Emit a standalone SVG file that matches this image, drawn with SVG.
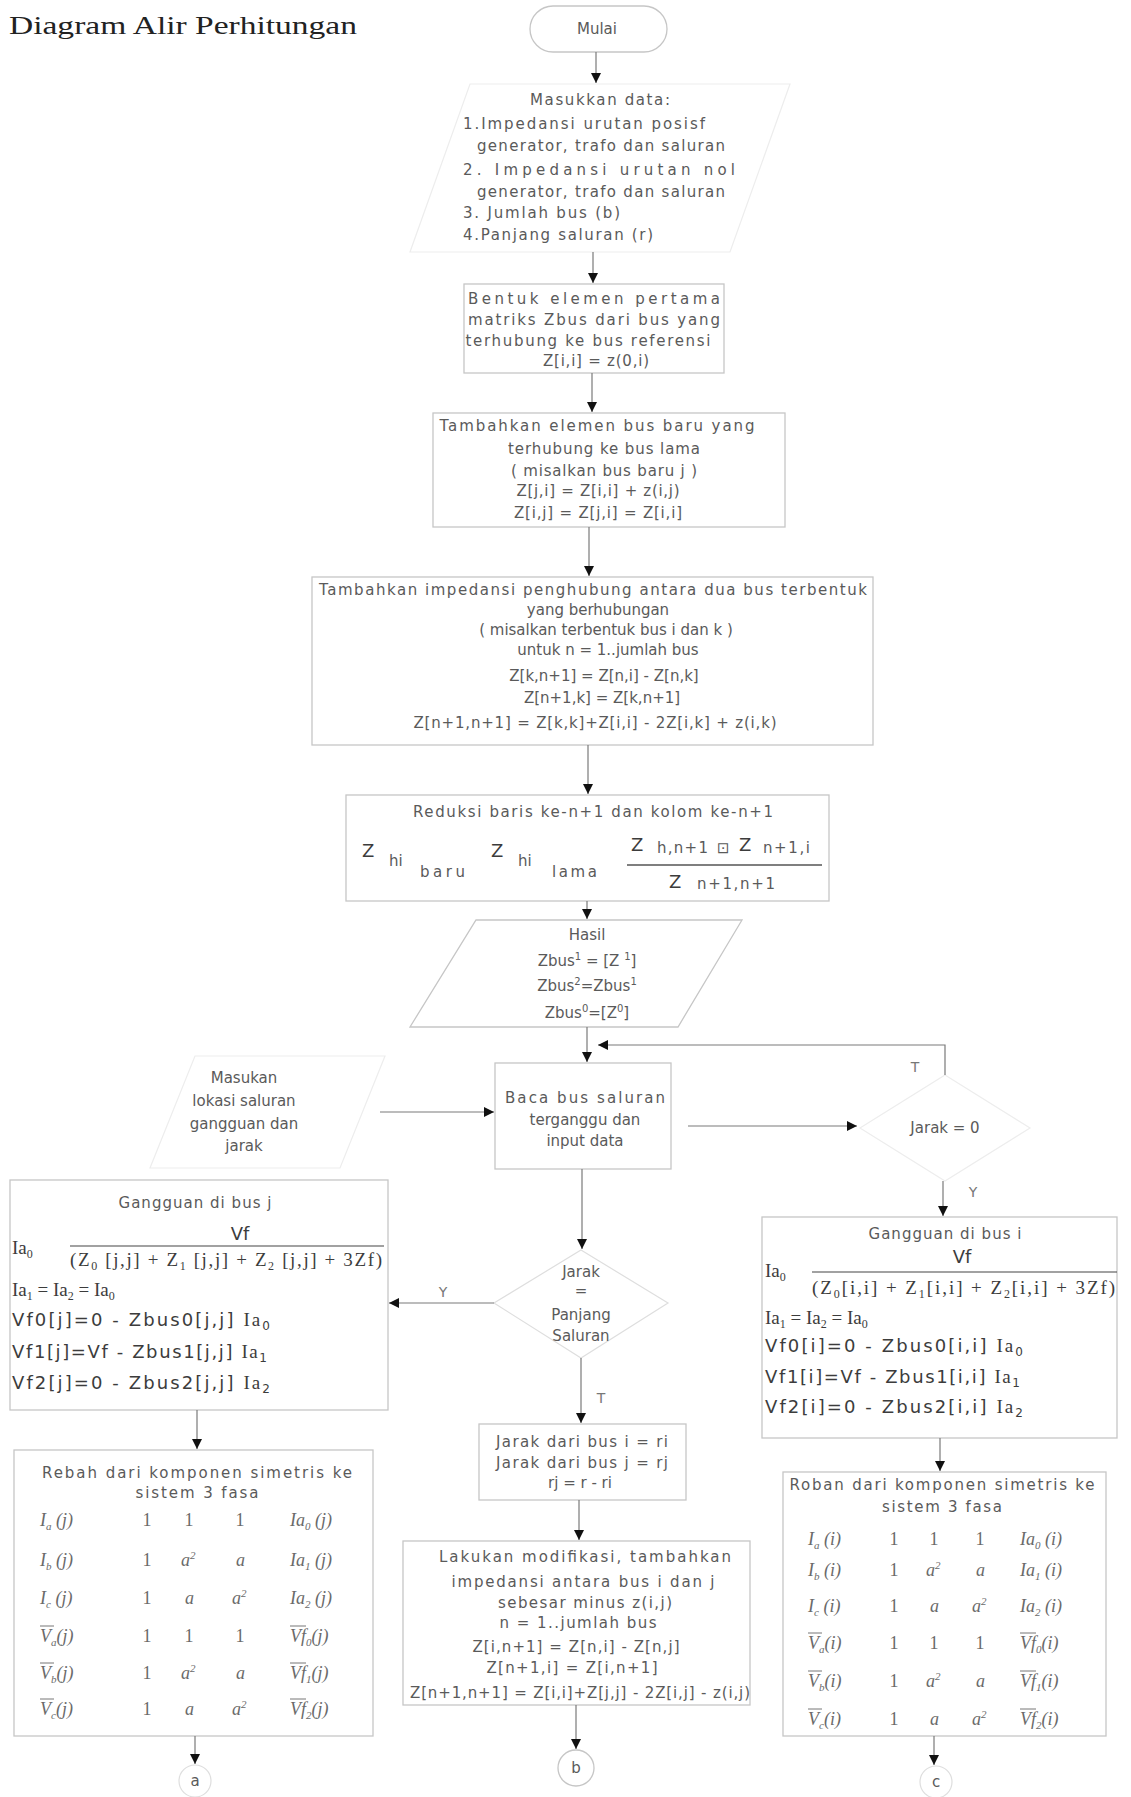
<svg xmlns="http://www.w3.org/2000/svg" width="1131" height="1797" viewBox="0 0 1131 1797">
<defs>
<style>
.bg{fill:#fff}
.box{fill:none;stroke:#c6c6c6;stroke-width:1.3}
.faint{fill:none;stroke:#ededed;stroke-width:1.2}
.mid{fill:none;stroke:#dedede;stroke-width:1.2}
.c{fill:none;stroke:#7a7a7a;stroke-width:1.2}
.t{font-family:"DejaVu Sans",sans-serif;font-size:15px;fill:#5a5a5a;text-anchor:middle}
.ts{font-family:"DejaVu Sans",sans-serif;font-size:15px;fill:#5a5a5a}
.f{font-family:"DejaVu Sans",sans-serif;font-size:18px;fill:#3c3c3c}
.sr{font-family:"Liberation Serif",serif;font-size:19px;fill:#3c3c3c}
.mx{font-family:"Liberation Serif",serif;font-style:italic;font-size:18px;fill:#6a6a6a}
.mn{font-family:"Liberation Serif",serif;font-size:18px;fill:#6a6a6a;text-anchor:middle}
.lb{font-family:"DejaVu Sans",sans-serif;font-size:14px;fill:#777;text-anchor:middle}
.ob{stroke:#777;stroke-width:1}
</style>
<marker id="ah" viewBox="0 0 10 10" refX="10" refY="5" markerWidth="10" markerHeight="10" markerUnits="userSpaceOnUse" orient="auto">
<path d="M0,0 L10,5 L0,10 z" fill="#111"/>
</marker>
</defs>
<rect class="bg" x="0" y="0" width="1131" height="1797"/>

<text id="title" x="9" y="34" font-family="Liberation Serif, serif" font-size="26" fill="#222" textLength="348" lengthAdjust="spacingAndGlyphs">Diagram Alir Perhitungan</text>

<g id="n-mulai">
<rect class="box" x="530" y="6" width="137" height="46" rx="23"/>
<text class="t" x="597" y="34">Mulai</text>
</g>

<g id="n-input">
<polygon class="faint" points="470,84 790,84 730,252 410,252"/>
<text class="t" x="600" y="105" textLength="140">Masukkan data:</text>
<text class="ts" x="463" y="129" textLength="242">1.Impedansi urutan posisf</text>
<text class="ts" x="477" y="151" textLength="248">generator, trafo dan saluran</text>
<text class="ts" x="463" y="175" textLength="272">2. Impedansi urutan nol</text>
<text class="ts" x="477" y="197" textLength="248">generator, trafo dan saluran</text>
<text class="ts" x="463" y="218" textLength="157">3. Jumlah bus (b)</text>
<text class="ts" x="463" y="240" textLength="190">4.Panjang saluran (r)</text>
</g>

<g id="n-bentuk">
<rect class="box" x="464" y="284" width="260" height="89"/>
<text class="t" x="594" y="304" textLength="252">Bentuk elemen pertama</text>
<text class="t" x="594" y="325" textLength="252">matriks Zbus dari bus yang</text>
<text class="t" x="588" y="346" textLength="245">terhubung ke bus referensi</text>
<text class="t" x="596" y="366" textLength="106">Z[i,i] = z(0,i)</text>
</g>

<g id="n-tambah-elemen">
<rect class="box" x="433" y="413" width="352" height="114"/>
<text class="t" x="597" y="431" textLength="315">Tambahkan elemen bus baru yang</text>
<text class="t" x="604" y="454" textLength="192">terhubung ke bus lama</text>
<text class="t" x="604" y="476" textLength="186">( misalkan bus baru j )</text>
<text class="t" x="598" y="496" textLength="163">Z[j,i] = Z[i,i] + z(i,j)</text>
<text class="t" x="598" y="518" textLength="168">Z[i,j] = Z[j,i] = Z[i,i]</text>
</g>

<g id="n-tambah-impedansi">
<rect class="box" x="312" y="577" width="561" height="168"/>
<text class="t" x="593" y="595" textLength="548">Tambahkan impedansi penghubung antara dua bus terbentuk</text>
<text class="t" x="598" y="615">yang berhubungan</text>
<text class="t" x="606" y="635">( misalkan terbentuk bus i dan k )</text>
<text class="t" x="608" y="655">untuk n = 1..jumlah bus</text>
<text class="t" x="604" y="681">Z[k,n+1] =  Z[n,i] - Z[n,k]</text>
<text class="t" x="602" y="703">Z[n+1,k] = Z[k,n+1]</text>
<text class="t" x="595" y="728" textLength="363">Z[n+1,n+1] = Z[k,k]+Z[i,i] - 2Z[i,k] + z(i,k)</text>
</g>

<g id="n-reduksi">
<rect class="box" x="346" y="795" width="483" height="106"/>
<text class="t" x="593" y="817" textLength="360">Reduksi baris ke-n+1 dan kolom ke-n+1</text>
<text class="f" x="362" y="857" font-size="19">Z</text>
<text class="ts" x="389" y="866">hi</text>
<text class="ts" x="420" y="877" textLength="45">baru</text>
<text class="f" x="491" y="857" font-size="19">Z</text>
<text class="ts" x="518" y="866">hi</text>
<text class="ts" x="552" y="877" textLength="45">lama</text>
<text class="f" x="631" y="851" font-size="19">Z</text>
<text class="ts" x="657" y="853" textLength="51">h,n+1</text>
<text class="ts" x="717" y="853">⊡</text>
<text class="f" x="739" y="851" font-size="19">Z</text>
<text class="ts" x="763" y="853" textLength="47">n+1,i</text>
<line x1="627" y1="865" x2="822" y2="865" stroke="#555" stroke-width="1.3"/>
<text class="f" x="669" y="888" font-size="19">Z</text>
<text class="ts" x="697" y="889" textLength="78">n+1,n+1</text>
</g>

<g id="n-hasil">
<polygon class="box" points="476,920 742,920 678,1027 410,1027"/>
<text class="t" x="587" y="940">Hasil</text>
<text class="t" x="587" y="966">Zbus<tspan dy="-6" font-size="10">1</tspan><tspan dy="6"> = [Z </tspan><tspan dy="-6" font-size="10">1</tspan><tspan dy="6">]</tspan></text>
<text class="t" x="587" y="991">Zbus<tspan dy="-6" font-size="10">2</tspan><tspan dy="6">=Zbus</tspan><tspan dy="-6" font-size="10">1</tspan></text>
<text class="t" x="587" y="1018">Zbus<tspan dy="-6" font-size="10">0</tspan><tspan dy="6">=[Z</tspan><tspan dy="-6" font-size="10">0</tspan><tspan dy="6">]</tspan></text>
</g>

<g id="n-lokasi">
<polygon class="faint" points="195,1056 385,1056 340,1168 150,1168"/>
<text class="t" x="244" y="1083">Masukan</text>
<text class="t" x="244" y="1106">lokasi saluran</text>
<text class="t" x="244" y="1129">gangguan dan</text>
<text class="t" x="244" y="1151">jarak</text>
</g>

<g id="n-baca">
<rect class="box" x="495" y="1063" width="176" height="106"/>
<text class="t" x="585" y="1103" textLength="160">Baca bus saluran</text>
<text class="t" x="585" y="1125">terganggu dan</text>
<text class="t" x="585" y="1146">input data</text>
</g>

<g id="n-jarak0">
<polygon class="faint" points="945,1075 1030,1128 945,1181 860,1128"/>
<text class="t" x="945" y="1133">Jarak = 0</text>
</g>

<g id="n-jarak-panjang">
<polygon class="mid" points="581,1250 668,1303 581,1358 494,1303"/>
<text class="t" x="581" y="1277">Jarak</text>
<text class="t" x="581" y="1296">=</text>
<text class="t" x="581" y="1320">Panjang</text>
<text class="t" x="581" y="1341">Saluran</text>
</g>

<g id="n-jarak-dari">
<rect class="box" x="479" y="1424" width="207" height="76"/>
<text class="t" x="582" y="1447" textLength="172">Jarak dari bus i = ri</text>
<text class="t" x="582" y="1468" textLength="172">Jarak dari bus j = rj</text>
<text class="t" x="580" y="1488">rj = r - ri</text>
</g>

<g id="n-modifikasi">
<rect class="box" x="403" y="1541" width="347" height="164"/>
<text class="t" x="585" y="1562" textLength="292">Lakukan modifikasi, tambahkan</text>
<text class="t" x="583" y="1587" textLength="263">impedansi  antara bus i dan j</text>
<text class="t" x="585" y="1608" textLength="174">sebesar minus z(i,j)</text>
<text class="t" x="578" y="1628" textLength="157">n = 1..jumlah bus</text>
<text class="t" x="576" y="1652" textLength="207">Z[i,n+1] =  Z[n,i] - Z[n,j]</text>
<text class="t" x="572" y="1673" textLength="171">Z[n+1,i] = Z[i,n+1]</text>
<text class="t" x="580" y="1698" textLength="340">Z[n+1,n+1] = Z[i,i]+Z[j,j] - 2Z[i,j] - z(i,j)</text>
</g>

<g id="n-gangguan-j">
<rect class="box" x="10" y="1180" width="378" height="230"/>
<text class="t" x="195" y="1208" textLength="153">Gangguan di bus j</text>
<text class="sr" x="12" y="1254">Ia<tspan dy="4" font-size="12">0</tspan></text>
<text class="f" x="240" y="1240" text-anchor="middle">Vf</text>
<line x1="70" y1="1246" x2="384" y2="1246" stroke="#444" stroke-width="1.2"/>
<text class="sr" x="70" y="1266" textLength="312">(Z<tspan dy="4" font-size="12">0</tspan><tspan dy="-4"> [j,j] + Z</tspan><tspan dy="4" font-size="12">1</tspan><tspan dy="-4"> [j,j] + Z</tspan><tspan dy="4" font-size="12">2</tspan><tspan dy="-4"> [j,j] + 3Zf)</tspan></text>
<text class="sr" x="12" y="1296">Ia<tspan dy="4" font-size="12">1</tspan><tspan dy="-4"> = Ia</tspan><tspan dy="4" font-size="12">2</tspan><tspan dy="-4"> = Ia</tspan><tspan dy="4" font-size="12">0</tspan></text>
<text class="f" x="12" y="1326" textLength="258">Vf0[j]=0 - Zbus0[j,j] <tspan font-family="Liberation Serif, serif" font-size="19">Ia</tspan><tspan dy="4" font-size="12">0</tspan></text>
<text class="f" x="12" y="1358" textLength="255">Vf1[j]=Vf - Zbus1[j,j] <tspan font-family="Liberation Serif, serif" font-size="19">Ia</tspan><tspan dy="4" font-size="12">1</tspan></text>
<text class="f" x="12" y="1389" textLength="258">Vf2[j]=0 - Zbus2[j,j] <tspan font-family="Liberation Serif, serif" font-size="19">Ia</tspan><tspan dy="4" font-size="12">2</tspan></text>
</g>

<g id="n-gangguan-i">
<rect class="box" x="762" y="1217" width="355" height="221"/>
<text class="t" x="945" y="1239" textLength="153">Gangguan di bus i</text>
<text class="sr" x="765" y="1277">Ia<tspan dy="4" font-size="12">0</tspan></text>
<text class="f" x="962" y="1263" text-anchor="middle">Vf</text>
<line x1="812" y1="1272" x2="1117" y2="1272" stroke="#444" stroke-width="1.2"/>
<text class="sr" x="812" y="1294" textLength="303">(Z<tspan dy="4" font-size="12">0</tspan><tspan dy="-4">[i,i] + Z</tspan><tspan dy="4" font-size="12">1</tspan><tspan dy="-4">[i,i] + Z</tspan><tspan dy="4" font-size="12">2</tspan><tspan dy="-4">[i,i] + 3Zf)</tspan></text>
<text class="sr" x="765" y="1324">Ia<tspan dy="4" font-size="12">1</tspan><tspan dy="-4"> = Ia</tspan><tspan dy="4" font-size="12">2</tspan><tspan dy="-4"> = Ia</tspan><tspan dy="4" font-size="12">0</tspan></text>
<text class="f" x="765" y="1352" textLength="258">Vf0[i]=0 - Zbus0[i,i] <tspan font-family="Liberation Serif, serif" font-size="19">Ia</tspan><tspan dy="4" font-size="12">0</tspan></text>
<text class="f" x="765" y="1383" textLength="255">Vf1[i]=Vf - Zbus1[i,i] <tspan font-family="Liberation Serif, serif" font-size="19">Ia</tspan><tspan dy="4" font-size="12">1</tspan></text>
<text class="f" x="765" y="1413" textLength="258">Vf2[i]=0 - Zbus2[i,i] <tspan font-family="Liberation Serif, serif" font-size="19">Ia</tspan><tspan dy="4" font-size="12">2</tspan></text>
</g>

<g id="n-beban-j">
<rect class="box" x="14" y="1450" width="359" height="286"/>
<text class="t" x="197" y="1478" textLength="310">Rebah dari komponen simetris ke</text>
<text class="t" x="197" y="1498" textLength="123">sistem 3 fasa</text>
<text class="mx" x="40" y="1526">I<tspan dy="4" font-size="11">a</tspan><tspan dy="-4"> (j)</tspan></text>
<text class="mx" x="40" y="1566">I<tspan dy="4" font-size="11">b</tspan><tspan dy="-4"> (j)</tspan></text>
<text class="mx" x="40" y="1604">I<tspan dy="4" font-size="11">c</tspan><tspan dy="-4"> (j)</tspan></text>
<text class="mx" x="40" y="1642">V<tspan dy="4" font-size="11">a</tspan><tspan dy="-4">(j)</tspan></text>
<text class="mx" x="40" y="1679">V<tspan dy="4" font-size="11">b</tspan><tspan dy="-4">(j)</tspan></text>
<text class="mx" x="40" y="1715">V<tspan dy="4" font-size="11">c</tspan><tspan dy="-4">(j)</tspan></text>
<line class="ob" x1="40" y1="1626" x2="54" y2="1626"/>
<line class="ob" x1="40" y1="1663" x2="54" y2="1663"/>
<line class="ob" x1="40" y1="1699" x2="54" y2="1699"/>
<text class="mn" x="147" y="1526">1</text><text class="mn" x="189" y="1526">1</text><text class="mn" x="240" y="1526">1</text>
<text class="mn" x="147" y="1566">1</text><text class="mx" x="181" y="1566">a<tspan dy="-7" font-size="11">2</tspan></text><text class="mx" x="236" y="1566">a</text>
<text class="mn" x="147" y="1604">1</text><text class="mx" x="185" y="1604">a</text><text class="mx" x="232" y="1604">a<tspan dy="-7" font-size="11">2</tspan></text>
<text class="mn" x="147" y="1642">1</text><text class="mn" x="189" y="1642">1</text><text class="mn" x="240" y="1642">1</text>
<text class="mn" x="147" y="1679">1</text><text class="mx" x="181" y="1679">a<tspan dy="-7" font-size="11">2</tspan></text><text class="mx" x="236" y="1679">a</text>
<text class="mn" x="147" y="1715">1</text><text class="mx" x="185" y="1715">a</text><text class="mx" x="232" y="1715">a<tspan dy="-7" font-size="11">2</tspan></text>
<text class="mx" x="290" y="1526">Ia<tspan dy="4" font-size="11">0</tspan><tspan dy="-4"> (j)</tspan></text>
<text class="mx" x="290" y="1566">Ia<tspan dy="4" font-size="11">1</tspan><tspan dy="-4"> (j)</tspan></text>
<text class="mx" x="290" y="1604">Ia<tspan dy="4" font-size="11">2</tspan><tspan dy="-4"> (j)</tspan></text>
<text class="mx" x="290" y="1642">Vf<tspan dy="4" font-size="11">0</tspan><tspan dy="-4">(j)</tspan></text>
<text class="mx" x="290" y="1679">Vf<tspan dy="4" font-size="11">1</tspan><tspan dy="-4">(j)</tspan></text>
<text class="mx" x="290" y="1715">Vf<tspan dy="4" font-size="11">2</tspan><tspan dy="-4">(j)</tspan></text>
<line class="ob" x1="290" y1="1626" x2="306" y2="1626"/>
<line class="ob" x1="290" y1="1663" x2="306" y2="1663"/>
<line class="ob" x1="290" y1="1699" x2="306" y2="1699"/>
</g>

<g id="n-beban-i">
<rect class="box" x="783" y="1472" width="323" height="264"/>
<text class="t" x="942" y="1490" textLength="305">Roban dari komponen simetris ke</text>
<text class="t" x="942" y="1512" textLength="120">sistem 3 fasa</text>
<text class="mx" x="808" y="1545">I<tspan dy="4" font-size="11">a</tspan><tspan dy="-4"> (i)</tspan></text>
<text class="mx" x="808" y="1576">I<tspan dy="4" font-size="11">b</tspan><tspan dy="-4"> (i)</tspan></text>
<text class="mx" x="808" y="1612">I<tspan dy="4" font-size="11">c</tspan><tspan dy="-4"> (i)</tspan></text>
<text class="mx" x="808" y="1649">V<tspan dy="4" font-size="11">a</tspan><tspan dy="-4">(i)</tspan></text>
<text class="mx" x="808" y="1687">V<tspan dy="4" font-size="11">b</tspan><tspan dy="-4">(i)</tspan></text>
<text class="mx" x="808" y="1725">V<tspan dy="4" font-size="11">c</tspan><tspan dy="-4">(i)</tspan></text>
<line class="ob" x1="808" y1="1633" x2="822" y2="1633"/>
<line class="ob" x1="808" y1="1671" x2="822" y2="1671"/>
<line class="ob" x1="808" y1="1709" x2="822" y2="1709"/>
<text class="mn" x="894" y="1545">1</text><text class="mn" x="934" y="1545">1</text><text class="mn" x="980" y="1545">1</text>
<text class="mn" x="894" y="1576">1</text><text class="mx" x="926" y="1576">a<tspan dy="-7" font-size="11">2</tspan></text><text class="mx" x="976" y="1576">a</text>
<text class="mn" x="894" y="1612">1</text><text class="mx" x="930" y="1612">a</text><text class="mx" x="972" y="1612">a<tspan dy="-7" font-size="11">2</tspan></text>
<text class="mn" x="894" y="1649">1</text><text class="mn" x="934" y="1649">1</text><text class="mn" x="980" y="1649">1</text>
<text class="mn" x="894" y="1687">1</text><text class="mx" x="926" y="1687">a<tspan dy="-7" font-size="11">2</tspan></text><text class="mx" x="976" y="1687">a</text>
<text class="mn" x="894" y="1725">1</text><text class="mx" x="930" y="1725">a</text><text class="mx" x="972" y="1725">a<tspan dy="-7" font-size="11">2</tspan></text>
<text class="mx" x="1020" y="1545">Ia<tspan dy="4" font-size="11">0</tspan><tspan dy="-4"> (i)</tspan></text>
<text class="mx" x="1020" y="1576">Ia<tspan dy="4" font-size="11">1</tspan><tspan dy="-4"> (i)</tspan></text>
<text class="mx" x="1020" y="1612">Ia<tspan dy="4" font-size="11">2</tspan><tspan dy="-4"> (i)</tspan></text>
<text class="mx" x="1020" y="1649">Vf<tspan dy="4" font-size="11">0</tspan><tspan dy="-4">(i)</tspan></text>
<text class="mx" x="1020" y="1687">Vf<tspan dy="4" font-size="11">1</tspan><tspan dy="-4">(i)</tspan></text>
<text class="mx" x="1020" y="1725">Vf<tspan dy="4" font-size="11">2</tspan><tspan dy="-4">(i)</tspan></text>
<line class="ob" x1="1020" y1="1633" x2="1036" y2="1633"/>
<line class="ob" x1="1020" y1="1671" x2="1036" y2="1671"/>
<line class="ob" x1="1020" y1="1709" x2="1036" y2="1709"/>
</g>

<g id="n-a">
<circle class="mid" cx="195" cy="1781" r="16"/>
<text class="t" x="195" y="1786">a</text>
</g>
<g id="n-b">
<circle class="box" cx="576" cy="1768" r="18"/>
<text class="t" x="576" y="1773">b</text>
</g>
<g id="n-c">
<circle class="mid" cx="936" cy="1782" r="16"/>
<text class="t" x="936" y="1787">c</text>
</g>

<g id="connectors">
<line class="c" x1="596" y1="52" x2="596" y2="83" marker-end="url(#ah)"/>
<line class="c" x1="593" y1="252" x2="593" y2="283" marker-end="url(#ah)"/>
<line class="c" x1="592" y1="373" x2="592" y2="412" marker-end="url(#ah)"/>
<line class="c" x1="589" y1="527" x2="589" y2="576" marker-end="url(#ah)"/>
<line class="c" x1="588" y1="745" x2="588" y2="794" marker-end="url(#ah)"/>
<line class="c" x1="587" y1="901" x2="587" y2="919" marker-end="url(#ah)"/>
<line class="c" x1="587" y1="1027" x2="587" y2="1062" marker-end="url(#ah)"/>
<path class="c" d="M945,1075 V1045 H598" marker-end="url(#ah)"/>
<line class="c" x1="380" y1="1112" x2="494" y2="1112" marker-end="url(#ah)"/>
<line class="c" x1="688" y1="1126" x2="857" y2="1126" marker-end="url(#ah)"/>
<line class="c" x1="943" y1="1181" x2="943" y2="1216" marker-end="url(#ah)"/>
<line class="c" x1="582" y1="1169" x2="582" y2="1249" marker-end="url(#ah)"/>
<line class="c" x1="494" y1="1303" x2="389" y2="1303" marker-end="url(#ah)"/>
<line class="c" x1="581" y1="1358" x2="581" y2="1423" marker-end="url(#ah)"/>
<line class="c" x1="579" y1="1500" x2="579" y2="1540" marker-end="url(#ah)"/>
<line class="c" x1="576" y1="1705" x2="576" y2="1749" marker-end="url(#ah)"/>
<line class="c" x1="197" y1="1410" x2="197" y2="1449" marker-end="url(#ah)"/>
<line class="c" x1="940" y1="1438" x2="940" y2="1471" marker-end="url(#ah)"/>
<line class="c" x1="195" y1="1736" x2="195" y2="1764" marker-end="url(#ah)"/>
<line class="c" x1="934" y1="1736" x2="934" y2="1765" marker-end="url(#ah)"/>
<text class="lb" x="915" y="1072">T</text>
<text class="lb" x="973" y="1197">Y</text>
<text class="lb" x="443" y="1297">Y</text>
<text class="lb" x="601" y="1403">T</text>
</g>
</svg>
